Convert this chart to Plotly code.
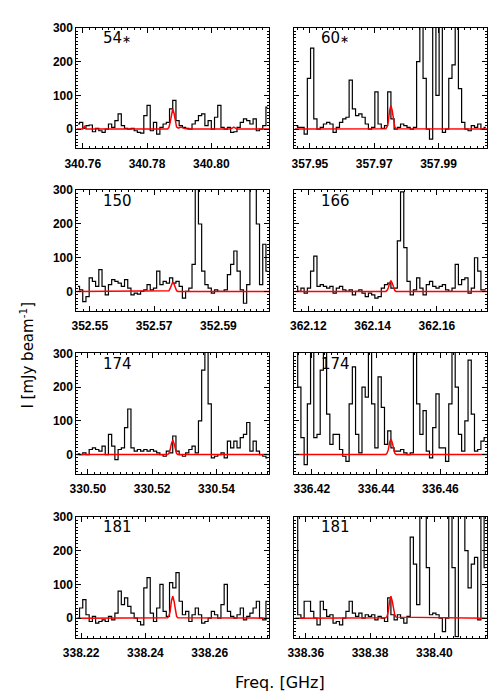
import numpy as np
import plotly.graph_objects as go

# channel width of the spectra, GHz
chan_width = 0.001

# line (panel centre) frequencies, GHz
centers = [340.7880, 357.9752, 352.5758, 362.1457, 330.5264, 336.4446, 338.2485, 338.3865]
star = "<span style='font-size:11px'>∗</span>"
labels = ['54' + star, '60' + star, '150', '166', '174', '174', '181', '181']

ticks_54 = [340.76, 340.78, 340.80]
ticks_60 = [357.95, 357.97, 357.99]
ticks_150 = [352.55, 352.57, 352.59]
ticks_166 = [362.12, 362.14, 362.16]
ticks_174a = [330.50, 330.52, 330.54]
ticks_174b = [336.42, 336.44, 336.46]
ticks_181a = [338.22, 338.24, 338.26]
ticks_181b = [338.36, 338.38, 338.40]

# observed spectra, mJy/beam
spec_54 = [15, 20, 2, 10, 12, -8, 2, -5, -10, 0, 15, 5, 25, 45, 10, 2, 0, 2, -5, -10,
           -12, 40, 70, -5, 20, -15, 5, 15, 20, 60, 85, 25, 10, 5, 2, 0, 15, 25, 40, 45,
           10, 25, 0, 35, 70, 5, 0, 5, -10, -8, 5, 20, 30, 25, 15, 30, -5, 0, 10, 65]
spec_60 = [10, 5, 5, -15, 150, 240, 30, 0, 5, 15, 20, 15, -10, 5, 20, 30, 35, 145, 60, 40,
           45, 35, 15, 0, 5, 110, 15, 2, 10, 110, 30, 0, 5, 15, 10, 5, 0, 5, 200, 400,
           150, 0, -30, 400, 100, 400, -10, 0, 150, 190, 400, 120, 20, 0, -5, 10, 5, 15, 0, 5]
spec_150 = [15, 5, -30, -15, 40, 30, 15, 65, 15, -10, 20, 35, 30, 25, 15, 35, 10, -10, -5, -8,
            0, 5, 20, 5, 10, 60, 20, 30, 25, 40, 25, 30, 15, -20, 0, 10, 80, 400, 200, 60,
            20, 10, -5, 5, 0, 0, 5, 50, 80, 120, 60, 5, -35, 20, 400, 400, 200, 20, 140, 60]
spec_166 = [15, 0, 10, -5, 10, 60, 105, 15, 20, 15, 10, 15, -5, 10, 15, 5, 0, 5, -10, 0,
            5, -5, -15, -5, -10, -20, -15, 10, 20, 25, 10, 10, 150, 295, 130, 30, -10, 5, 40, 10,
            -10, 20, 30, 15, 10, 15, 20, 5, 0, 10, 80, 20, 35, 40, -5, 10, 100, 60, 5, 5]
spec_174a = [2, 0, 5, 0, 15, 20, 15, 10, 25, 0, 60, 25, -15, 15, 20, 80, 135, 20, 10, 15,
             10, 15, 10, 15, 10, 5, 0, -5, 10, 5, 55, 10, 0, -5, 5, 15, 25, 5, 100, 250,
             310, 150, -10, -5, 0, 5, -10, 40, 20, 40, 20, 50, 60, 95, 10, 40, 10, 0, -5, -10]
spec_174b = [320, 200, 50, -30, 150, 320, 50, 60, 250, 320, 120, 30, 60, 60, 15, -5, -20, 150, 260, 60,
             5, 200, 170, 320, 150, 20, 230, 140, 30, 70, 20, 10, 10, 15, 5, 0, 5, 320, 150, 60,
             130, 10, -10, 80, 180, 20, 20, -20, 150, 320, 200, 60, 10, 100, 280, 120, 10, 15, 40, 50]
spec_181a = [0, 30, 55, 10, -10, 5, -15, -10, -5, -10, 5, -5, 15, 80, 40, 60, 35, 15, 0, -10,
             -20, 90, 120, 15, -10, 30, 100, 20, 5, 105, 90, 135, 50, 10, 20, -10, 10, 30, 10, -15,
             -10, 0, 20, 10, 0, 40, 100, 20, 5, 0, 10, 30, -5, 5, 15, 30, 50, 0, -5, 50]
spec_181b = [320, 10, 0, 50, 50, 20, 0, -20, 50, 25, 5, 10, -15, -10, -20, 0, 20, 50, 15, 5,
             15, 0, 10, 5, 10, -5, 5, 0, -10, 60, 10, -5, 10, 0, -15, 5, 240, 160, 40, 320,
             320, 150, 10, 15, 10, 0, -40, 0, 320, 150, -55, 320, 320, 200, 90, 160, 180, -5, 320, 150]

# fitted line model, offsets from centre in MHz
red_off = [-30, -1.6, -1.2, -0.8, -0.4, 0, 0.4, 0.8, 1.2, 1.6, 30]
red_off_54 = [-30, -28, -27.5, -27, -1.6, -1.2, -0.8, -0.4, 0, 0.4, 0.8, 1.2, 1.8, 2.5, 3.5, 4.5,
              18, 19, 20, 30]
red_54 = [0, 0, 8, 0, 0, 5, 20, 47, 60, 47, 20, 6, 3, 6, 2, 0, 0, 6, 0, 0]
red_60 = [0, 1, 6, 23, 55, 70, 55, 23, 6, 1, 0]
red_150 = [0, 0, 2, 9, 22, 28, 22, 9, 2, 0, 0]
red_166 = [0, 0, 3, 11, 25, 32, 25, 11, 3, 0, 0]
red_174a = [0, 0, 3, 14, 33, 42, 33, 14, 3, 0, 0]
red_174b = [0, 0, 4, 15, 36, 46, 36, 15, 4, 0, 0]
red_181a = [0, 1, 5, 21, 51, 65, 51, 21, 5, 1, 0]
red_181b = [0, 1, 5, 21, 51, 65, 51, 25, 10, 3, 0]

panels = [
    (spec_54, red_off_54, red_54, ticks_54),
    (spec_60, red_off, red_60, ticks_60),
    (spec_150, red_off, red_150, ticks_150),
    (spec_166, red_off, red_166, ticks_166),
    (spec_174a, red_off, red_174a, ticks_174a),
    (spec_174b, red_off, red_174b, ticks_174b),
    (spec_181a, red_off, red_181a, ticks_181a),
    (spec_181b, red_off, red_181b, ticks_181b),
]

W, H = 500, 700
col_x = [(65, 263), (289, 487)]
row_top = [21.7, 185.5, 350.0, 515.0]
panel_h = 122

tick_font = dict(family='Liberation Sans', size=12, color='black', weight='bold')

fig = go.Figure()
layout = dict(
    width=W, height=H, autosize=False,
    margin=dict(l=0, r=0, t=0, b=0),
    paper_bgcolor='white', plot_bgcolor='white',
    showlegend=False,
    annotations=[],
)

for k, (spec, roff, red, ticks) in enumerate(panels):
    row, col = divmod(k, 2)
    sfx = '' if k == 0 else str(k + 1)
    c = centers[k]
    n = len(spec)
    freq = c + (np.arange(n) - (n - 1) / 2) * chan_width
    fig.add_trace(go.Scatter(
        x=freq, y=spec, mode='lines',
        line=dict(color='black', width=1.2, shape='hvh'),
        xaxis='x' + sfx, yaxis='y' + sfx, hoverinfo='skip'))
    fig.add_trace(go.Scatter(
        x=c + np.array(roff) / 1000.0, y=red, mode='lines',
        line=dict(color='#ff0000', width=1.5),
        xaxis='x' + sfx, yaxis='y' + sfx, hoverinfo='skip'))

    x0, x1 = col_x[col]
    top = row_top[row]
    bot = top + panel_h
    layout['xaxis' + sfx] = dict(
        domain=[x0 / W, x1 / W], anchor='y' + sfx,
        range=[c - 0.030, c + 0.030],
        tickvals=ticks, ticktext=['%.2f' % t for t in ticks],
        ticks='inside', ticklen=5, tickcolor='black',
        minor=dict(ticks='inside', ticklen=2, dtick=0.002, tick0=ticks[0], tickcolor='black'),
        showline=True, linecolor='black', linewidth=1, mirror='allticks',
        showgrid=False, zeroline=False, tickfont=tick_font,
        ticklabelstandoff=4,
    )
    layout['yaxis' + sfx] = dict(
        domain=[1 - bot / H, 1 - top / H], anchor='x' + sfx,
        range=[-57.5, 301],
        tickvals=[0, 100, 200, 300],
        ticks='inside', ticklen=5, tickcolor='black',
        minor=dict(ticks='inside', ticklen=2, dtick=10, tick0=0, tickcolor='black'),
        showline=True, linecolor='black', linewidth=1, mirror='allticks',
        showgrid=False, zeroline=False, tickfont=tick_font,
        showticklabels=(col == 0),
    )
    layout['annotations'].append(dict(
        text=labels[k], xref='paper', yref='paper',
        x=(x0 + 25) / W, y=1 - (top + 11) / H,
        xanchor='left', yanchor='middle', showarrow=False,
        font=dict(family='DejaVu Sans', size=15, color='black')))

layout['annotations'].append(dict(
    text='I [mJy beam<sup>-1</sup>]', xref='paper', yref='paper',
    x=14 / W, y=1 - 352 / H, textangle=-90,
    xanchor='center', yanchor='middle', showarrow=False,
    font=dict(family='DejaVu Sans', size=15, color='black')))
layout['annotations'].append(dict(
    text='Freq. [GHz]', xref='paper', yref='paper',
    x=274 / W, y=1 - 682 / H,
    xanchor='center', yanchor='middle', showarrow=False,
    font=dict(family='DejaVu Sans', size=16, color='black')))

fig.update_layout(**layout)
fig.write_html("out.html", config={'displayModeBar': False},
               post_script="document.body.style.margin='0';")
